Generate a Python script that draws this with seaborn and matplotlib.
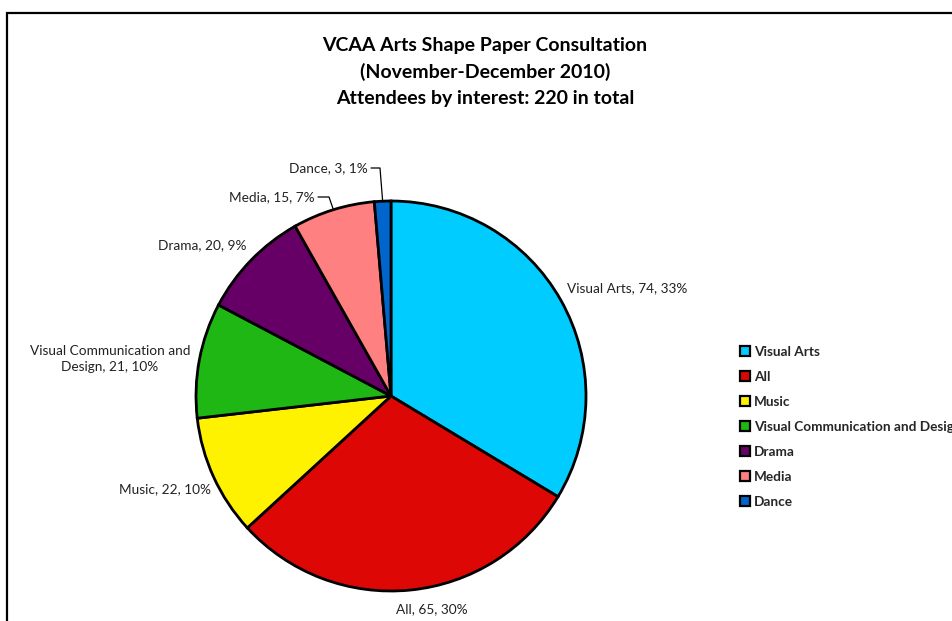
import matplotlib
matplotlib.use("Agg")
import matplotlib.pyplot as plt
import seaborn as sns
from matplotlib.lines import Line2D
from matplotlib.patches import Rectangle
import numpy as np

categories = ["Visual Arts", "All", "Music", "Visual Communication and Design",
              "Drama", "Media", "Dance"]
counts = [74, 65, 22, 21, 20, 15, 3]
percent_labels = ["33%", "30%", "10%", "10%", "9%", "7%", "1%"]
slice_label_names = ["Visual Arts", "All", "Music", "Visual Communication and\nDesign",
                     "Drama", "Media", "Dance"]
colors = ["#00CCFF", "#DD0806", "#FFF200", "#1FB714", "#660066", "#FF8080", "#0066CC"]
title_text = "VCAA Arts Shape Paper Consultation\n(November-December 2010)\nAttendees by interest: 220 in total"

sns.set_theme(style="white")
plt.rcParams["font.family"] = ["Lato", "DejaVu Sans"]

W, H = 952, 621
fig = plt.figure(figsize=(W / 100, H / 100), dpi=100)
ax = fig.add_axes([0, 0, 1, 1])

def Y(y):
    return H - y

cx, cy, r = 391, 396, 195
wedges, _ = ax.pie(counts, colors=colors, startangle=90, counterclock=False,
                   center=(cx, Y(cy)), radius=r, frame=True,
                   wedgeprops=dict(edgecolor="black", linewidth=2))
ax.set_xlim(0, W)
ax.set_ylim(0, H)
ax.set_axis_off()
ax.set_aspect("equal")

# chart frame
ax.add_patch(Rectangle((7, -20), W + 40, Y(13) + 20, fill=False, edgecolor="black",
                       linewidth=1.6, clip_on=False))

# slice labels: (x, y, ha)
label_pos = [(567, 288, "left"), (432, 609, "center"), (211, 489, "right"),
             (110, 359, "center"), (246, 245, "right"), (315, 197, "right"),
             (368, 168, "right")]
for name, c, p, (lx, ly, ha) in zip(slice_label_names, counts, percent_labels, label_pos):
    ax.text(lx, Y(ly), f"{name}, {c}, {p}", ha=ha, va="center", fontsize=9.8,
            color="#222222", linespacing=1.45)

# leader lines for small slices (Media, Dance)
elbows = {5: [(318, 197), (329, 197)], 6: [(371, 168), (380, 168)]}
for i, pts in elbows.items():
    w = wedges[i]
    mid = np.deg2rad((w.theta1 + w.theta2) / 2)
    ex, ey = cx + r * np.cos(mid), Y(cy) + r * np.sin(mid)
    xs = [p[0] for p in pts] + [ex]
    ys = [Y(p[1]) for p in pts] + [ey]
    ax.plot(xs, ys, color="black", linewidth=0.9)

# title
ax.text(485, Y(72), title_text, ha="center", va="center", fontsize=14,
        fontweight="bold", linespacing=1.62, color="black")

# legend
handles = [Line2D([], [], marker="s", linestyle="none", markersize=7,
                  markerfacecolor=col, markeredgecolor="black", markeredgewidth=1.6)
           for col in colors]
leg = ax.legend(handles, categories, loc="upper left",
                bbox_to_anchor=(727 / W, 1 - 334 / H), bbox_transform=fig.transFigure,
                frameon=False, handletextpad=0.2, labelspacing=0.95,
                handlelength=0.9, prop=dict(weight="bold", size=9.8))

fig.savefig("out.png", dpi=100)
